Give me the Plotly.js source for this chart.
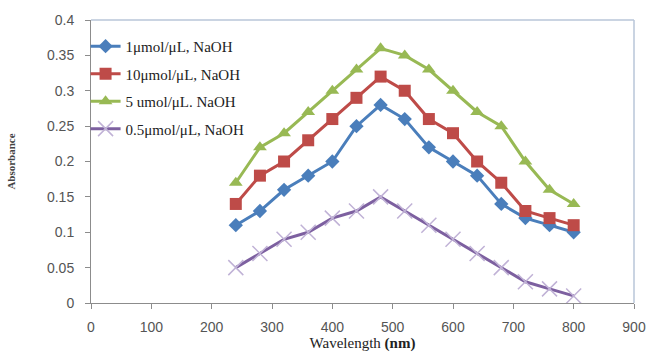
<!DOCTYPE html>
<html><head><meta charset="utf-8">
<script src="https://cdn.plot.ly/plotly-3.0.1.min.js"></script>
<style>html,body{margin:0;padding:0;background:#fff}#c{width:646px;height:356px}</style>
</head><body><div id="c"></div>
<script>
const wavelength = [240,280,320,360,400,440,480,520,560,600,640,680,720,760,800];
const s1 = [0.11,0.13,0.16,0.18,0.20,0.25,0.28,0.26,0.22,0.20,0.18,0.14,0.12,0.11,0.10];
const s10 = [0.14,0.18,0.20,0.23,0.26,0.29,0.32,0.30,0.26,0.24,0.20,0.17,0.13,0.12,0.11];
const s5 = [0.17,0.22,0.24,0.27,0.30,0.33,0.36,0.35,0.33,0.30,0.27,0.25,0.20,0.16,0.14];
const s05 = [0.05,0.07,0.09,0.10,0.12,0.13,0.15,0.13,0.11,0.09,0.07,0.05,0.03,0.02,0.01];
const names = ['1μmol/μL, NaOH','10μmol/μL, NaOH','5 umol/μL. NaOH','0.5μmol/μL, NaOH'];

const traces = [
 {x:wavelength,y:s1,name:names[0],legendgroup:'a',mode:'lines+markers',line:{color:'#4a7ebb',width:3},marker:{symbol:'diamond',size:11,color:'#4a7ebb'}},
 {x:wavelength,y:s10,name:names[1],legendgroup:'b',mode:'lines+markers',line:{color:'#be4b48',width:3},marker:{symbol:'square',size:12,color:'#be4b48'}},
 {x:wavelength,y:s5,name:names[2],legendgroup:'c',mode:'lines+markers',line:{color:'#98b954',width:3},marker:{symbol:'triangle-up',size:12,color:'#98b954'}},
 {x:wavelength,y:s05,name:names[3],legendgroup:'d',mode:'lines+markers',line:{color:'#7d60a0',width:3},marker:{symbol:'x-thin-open',size:15,color:'#c0b2d6',line:{width:1.5,color:'#c0b2d6'}}}
];
const layout = {
 width:646,height:356,margin:{l:91,r:12,t:20,b:53},
 paper_bgcolor:'#fff',plot_bgcolor:'#fff',
 font:{family:'Liberation Sans, Arial, sans-serif',size:14,color:'#555'},
 xaxis:{range:[0,900],dtick:100,tick0:0,showgrid:false,zeroline:false,showline:true,linecolor:'#8c8c8c',linewidth:1,ticks:'outside',ticklen:5,tickcolor:'#8c8c8c',ticklabelstandoff:6,
   title:{text:'Wavelength <b>(nm)</b>',font:{family:'Liberation Serif, Times New Roman, serif',size:15,color:'#222'},standoff:2}},
 yaxis:{range:[0,0.4],dtick:0.05,tick0:0,showgrid:false,zeroline:false,showline:true,linecolor:'#8c8c8c',linewidth:1,ticks:'outside',ticklen:5,tickcolor:'#8c8c8c',ticklabelstandoff:8,
   title:{text:'<b>Absorbance</b>',font:{family:'Liberation Serif, Times New Roman, serif',size:11,color:'#444'},standoff:29}},
 legend:{x:-0.01,y:0.965,xanchor:'left',yanchor:'top',traceorder:'grouped',tracegroupgap:5,bgcolor:'rgba(0,0,0,0)',font:{family:'Liberation Serif, Times New Roman, serif',size:15,color:'#222'}},
 shapes:[
  {type:'line',xref:'paper',yref:'paper',x0:0,x1:1,y0:1,y1:1,line:{color:'#b9c6d8',width:1.5}},
  {type:'line',xref:'paper',yref:'paper',x0:1,x1:1,y0:0,y1:1,line:{color:'#b9c6d8',width:1.5}}
 ]
};
Plotly.newPlot('c',traces,layout,{displayModeBar:false,staticPlot:true});
</script></body></html>
